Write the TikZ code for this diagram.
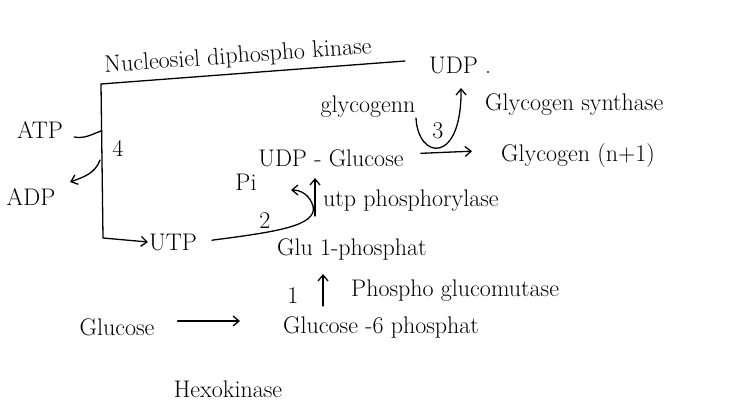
\documentclass[tikz,border=0pt]{standalone}
\usetikzlibrary{positioning,arrows.meta}
\begin{document}
\begin{tikzpicture}[x=1pt, y=-1pt,
    hand/.style={font=\fontsize{24pt}{26pt}\selectfont, inner sep=1pt},
    link/.style={line width=1.3pt, line cap=round},
    tip/.style={-{Straight Barb[length=6pt, width=10pt]}}]

    % Page
    \useasboundingbox[fill=white] (0,0) rectangle (731,407);

    % Metabolites and enzymes
    \node[hand, rotate=4] (nuc) at (238,57) {Nucleosiel diphospho kinase};
    \node[hand, anchor=west] (udp) at (428,65) {UDP .};
    \node[hand] (atp) at (40,130) {ATP};
    \node[hand] (adp) at (31,197) {ADP};
    \node[hand] (four) at (118,148) {4};
    \node[hand, anchor=west] (utp) at (148,242) {UTP};
    \node[hand] (pi) at (246,182) {Pi};
    \node[hand] (udpg) at (331,158) {UDP - Glucose};
    \node[hand] (glyn) at (368,107) {glycogenn};
    \node[hand, anchor=west] (gsyn) at (484,105) {Glycogen synthase};
    \node[hand, anchor=west] (glyn1) at (500,156) {Glycogen (n+1)};
    \node[hand, anchor=west] (utpp) at (322,201) {utp phosphorylase};
    \node[hand, anchor=west] (g1p) at (276,249) {Glu 1-phosphat};
    \node[hand] (one) at (293,296) {1};
    \node[hand, anchor=west] (pgm) at (350,291) {Phospho glucomutase};
    \node[hand] (glc) at (117,327) {Glucose};
    \node[hand, anchor=west] (g6p) at (282,327) {Glucose -6 phosphat};
    \node[hand] (hex) at (228,389) {Hexokinase};

    % Step numbers
    \node[hand] (two) at (265,221) {2};
    \node[hand] (three) at (438,131) {3};

    % Bracket of reaction 4
    \coordinate (kinend) at (405,61);
    \coordinate (brtop) at (101,84);
    \coordinate (brbot) at (103,238);
    \coordinate (bratp) at (101,131);
    \coordinate (bradp) at (100,160);
    \coordinate (adpend) at (70,182);
    \draw[link, tip] (kinend) -- (brtop) -- (brbot) -- (utp.west);
    \draw[link] ([shift={(10,7)}]atp.east) to[out=-10, in=200] (bratp);
    \draw[link, tip] (bradp) to[out=-110, in=20] (adpend);

    % Reaction 2: UTP + Glc 1-P -> UDP-Glucose + Pi
    \coordinate (piend) at (291,190);
    \coordinate (upbot) at (315,216);
    \coordinate (uptop) at (315,178);
    \draw[link, tip, shorten <=14pt] (utp.east) .. controls (275,232) and (318,226) .. (313,206)
        .. controls (310,196) and (302,190) .. (piend);
    \draw[link, tip] (upbot) -- (uptop);

    % Reaction 3: glycogen synthase
    \coordinate (glyin) at (416,118);
    \coordinate (glyout) at (461,88);
    \draw[link, tip, shorten <=16pt, shorten >=28pt] ([yshift=4pt]udpg.east) -- ([yshift=6pt]glyn1.west);
    \draw[link, tip] (glyin) .. controls (418,160) and (462,165) .. (glyout);

    % Reaction 1: phosphoglucomutase
    \coordinate (mutbot) at (323,306);
    \coordinate (muttop) at (323,274);
    \draw[link, tip] (mutbot) -- (muttop);

    % Hexokinase
    \draw[link, tip, shorten <=22pt, shorten >=42pt] ([yshift=6pt]glc.east) -- ([yshift=6pt]g6p.west);

\end{tikzpicture}
\end{document}
